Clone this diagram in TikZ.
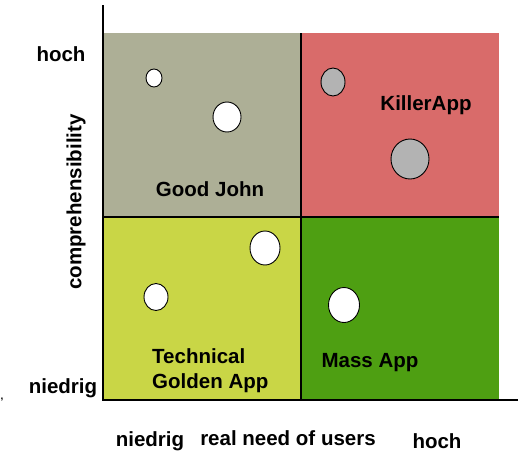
\documentclass[tikz,border=0pt]{standalone}
\usepackage{fontspec}
\setmainfont{Liberation Sans}
\usetikzlibrary{shapes.geometric}
\begin{document}
\begin{tikzpicture}[x=1pt,y=-1pt,
  lbl/.style={font=\fontsize{20.5}{25}\selectfont\bfseries, inner sep=0pt},
  bub/.style={draw=black, line width=0.9pt, ellipse, inner sep=0pt},
  axis/.style={line width=2.6pt},
  mid/.style={line width=2pt}]
\useasboundingbox (0,0) rectangle (526,453);
\definecolor{cgray}{HTML}{ADAF96}
\definecolor{cred}{HTML}{D96B6A}
\definecolor{cyel}{HTML}{C9D646}
\definecolor{cgreen}{HTML}{4E9F12}
\definecolor{cbub}{HTML}{B3B3B3}
% quadrants
\fill[cgray] (104,33) rectangle (301,217);
\fill[cred] (301,33) rectangle (499,217);
\fill[cyel] (104,217) rectangle (301,399);
\fill[cgreen] (301,217) rectangle (499,399);
% middle lines
\coordinate (mt) at (301,33);
\coordinate (mb) at (301,399);
\coordinate (ml) at (104,217);
\coordinate (mr) at (499,217);
\draw[mid] (mt) -- (mb);
\draw[mid] (ml) -- (mr);
% axes
\coordinate (ytop) at (103,5);
\coordinate (orig) at (103,400);
\coordinate (xend) at (518,400);
\draw[axis] (ytop) -- (orig) -- (xend);
% bubbles
\node[bub, fill=white, minimum width=16, minimum height=18] (b1) at (154,78) {};
\node[bub, fill=white, minimum width=28, minimum height=30] (b2) at (227,117) {};
\node[bub, fill=cbub, minimum width=24, minimum height=28] (b3) at (333,82) {};
\node[bub, fill=cbub, minimum width=38, minimum height=40] (b4) at (410,159) {};
\node[bub, fill=white, minimum width=30, minimum height=34] (b5) at (265,248) {};
\node[bub, fill=white, minimum width=24, minimum height=27] (b6) at (156,297) {};
\node[bub, fill=white, minimum width=31, minimum height=35] (b7) at (344,305) {};
% quadrant labels
\node[lbl] (q1) at (210,189) {Good John};
\node[lbl] (q2) at (426,105) {KillerApp};
\node[lbl, align=left, anchor=north west] (q3) at (152,348) {Technical\\Golden App};
\node[lbl] (q4) at (370,363) {Mass App};
% axis labels
\node[lbl] (yh) at (61,54) {hoch};
\node[lbl] (yn) at (63,388) {niedrig};
\node[lbl, rotate=90] (yt) at (76,202) {comprehensibility};
\node[lbl] (xn) at (150,441) {niedrig};
\node[lbl] (xt) at (288,438) {real need of users};
\node[lbl] (xh) at (437,441) {hoch};
\node[lbl, font=\fontsize{10}{10}\selectfont\bfseries] (cm) at (2,400) {,};
\end{tikzpicture}
\end{document}
